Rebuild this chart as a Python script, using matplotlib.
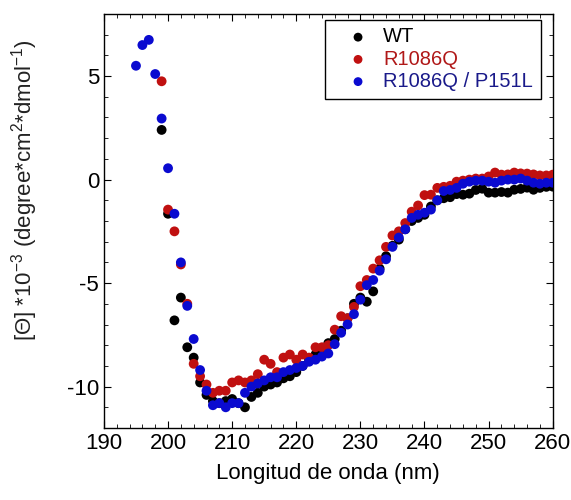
import matplotlib
matplotlib.use('Agg')
from matplotlib import pyplot as plt
from matplotlib.ticker import MultipleLocator

# Configure the font
plt.rcParams['font.family'] = ['Liberation Sans', 'DejaVu Sans']
plt.rcParams['mathtext.default'] = 'regular'
plt.rcParams['axes.unicode_minus'] = False

# wavelength (nm) and ellipticity values
wl_wt = list(range(199, 261))
wt = [2.4, -1.65, -6.8, -5.7, -8.1, -8.6, -9.8, -10.4, -10.7, -10.8,
      -10.7, -10.6, -10.8, -11.0, -10.5, -10.3, -10.0, -9.9, -9.8, -9.6,
      -9.5, -9.3, -9.0, -8.7, -8.45, -8.2, -7.9, -7.7, -7.3, -6.7,
      -6.0, -5.7, -5.9, -5.4, -4.3, -3.7, -3.2, -2.9, -2.4, -2.0,
      -1.85, -1.7, -1.3, -1.0, -0.9, -0.85, -0.7, -0.73, -0.68, -0.5,
      -0.44, -0.63, -0.63, -0.6, -0.63, -0.49, -0.45, -0.39, -0.49, -0.4,
      -0.35, -0.34]

wl_r = list(range(199, 261))
r1086q = [4.75, -1.45, -2.5, -4.1, -6.0, -8.9, -9.5, -9.9, -10.3, -10.2,
          -10.2, -9.8, -9.7, -9.8, -9.7, -9.4, -8.7, -8.9, -9.3, -8.6,
          -8.45, -8.7, -8.45, -8.6, -8.1, -8.1, -8.0, -7.25, -6.6, -6.7,
          -6.15, -5.15, -4.85, -4.3, -3.9, -3.25, -2.7, -2.5, -2.1, -1.55,
          -1.25, -0.75, -0.73, -0.4, -0.35, -0.3, -0.1, -0.05, 0.0, 0.05,
          0.05, 0.15, 0.34, 0.24, 0.25, 0.34, 0.3, 0.29, 0.25, 0.2,
          0.2, 0.24]

wl_b = list(range(195, 261))
r1086q_p151l = [5.5, 6.5, 6.75, 5.1, 2.95, 0.55, -1.65, -4.0, -6.1, -7.7,
                -9.2, -10.2, -10.9, -10.8, -11.0, -10.8, -10.8, -10.3, -10.0, -9.85,
                -9.7, -9.55, -9.55, -9.3, -9.2, -9.1, -9.0, -8.8, -8.7, -8.55,
                -8.4, -7.95, -7.4, -7.0, -6.5, -5.8, -5.1, -4.85, -4.4, -3.85,
                -3.25, -2.8, -2.4, -1.85, -1.7, -1.6, -1.45, -1.0, -0.55, -0.5,
                -0.4, -0.2, -0.1, -0.05, -0.05, -0.1, -0.15, -0.05, 0.0, 0.0,
                0.05, -0.05, -0.15, -0.2, -0.15, -0.15]

series = [
    (wl_wt, wt, '#000000', '#000000', 'WT'),
    (wl_r, r1086q, '#c01010', '#b01818', 'R1086Q'),
    (wl_b, r1086q_p151l, '#0a0ad0', '#1a1a8a', 'R1086Q / P151L'),
]

fig = plt.figure(figsize=(5.71, 5.0), dpi=100)
ax = fig.add_axes([0.182, 0.144, 0.786, 0.828])

for x, y, color, text_color, name in series:
    ax.scatter(x, y, s=50, color=color, edgecolors='none', label=name, zorder=3)

ax.set_xlim(190, 260)
ax.set_ylim(-12, 8)
ax.xaxis.set_major_locator(MultipleLocator(10))
ax.xaxis.set_minor_locator(MultipleLocator(2))
ax.yaxis.set_major_locator(MultipleLocator(5))
ax.yaxis.set_minor_locator(MultipleLocator(1))
ax.tick_params(which='both', direction='in', top=True, right=True, labelsize=16)
ax.tick_params(which='major', length=5)
ax.tick_params(which='minor', length=3)
for s in ax.spines.values():
    s.set_linewidth(1.0)

ax.set_xlabel('Longitud de onda (nm)', fontsize=16)
ax.xaxis.set_label_coords(0.5, -0.085)
ax.set_ylabel(r'[Θ] *10$^{-3}$ (degree*cm$^{2}$*dmol$^{-1}$)', fontsize=16,
              color='#222222')
ax.yaxis.set_label_coords(-0.142, 0.575)

leg = ax.legend(loc='upper right', fontsize=14.5, frameon=True, fancybox=False,
                edgecolor='black', framealpha=1, handlelength=2.5,
                handletextpad=0.0, borderpad=0.38, labelspacing=0.16,
                markerscale=0.9, borderaxespad=0,
                bbox_to_anchor=(0.973, 0.986))
leg.get_frame().set_linewidth(1.0)
for txt, (_, _, _, tc, _) in zip(leg.get_texts(), series):
    txt.set_color(tc)

plt.savefig('out.png', dpi=100)
